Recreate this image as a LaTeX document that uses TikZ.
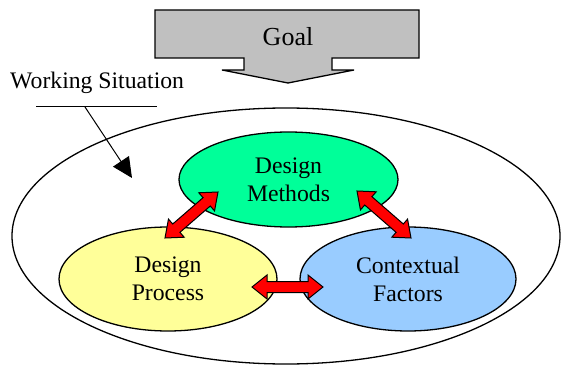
\documentclass[tikz,border=0pt]{standalone}
\usepackage{fontspec}
\setmainfont{Liberation Serif}
\usetikzlibrary{shapes.geometric,calc,arrows.meta}
\definecolor{dmgreen}{HTML}{00FF99}
\definecolor{dpyellow}{HTML}{FFFF99}
\definecolor{cfblue}{HTML}{99CCFF}
\definecolor{goalgray}{HTML}{C0C0C0}
\tikzset{
  lbl/.style={font=\fontsize{23.7}{28}\selectfont, align=center},
  blob/.style={ellipse, draw=black, line width=1.3pt, inner sep=0pt, lbl},
  redarrow/.style={draw=black, fill=red, line width=1pt, line join=miter},
  pointer/.style={draw=black, line width=1pt, -{Triangle[length=20pt,width=19pt]}},
}
\newcommand\blockarrow[2]{%
  \path (#1) coordinate (ba-s) (#2) coordinate (ba-t);
  \path ($(ba-s)!15pt!(ba-t)$) coordinate (ba-h1)
        ($(ba-t)!15pt!(ba-s)$) coordinate (ba-h2);
  \draw[redarrow] (ba-s)
    -- ($(ba-h1)!12pt!-90:(ba-t)$) -- ($(ba-h1)!5.5pt!-90:(ba-t)$)
    -- ($(ba-h2)!5.5pt!90:(ba-s)$) -- ($(ba-h2)!12pt!90:(ba-s)$)
    -- (ba-t)
    -- ($(ba-h2)!12pt!-90:(ba-s)$) -- ($(ba-h2)!5.5pt!-90:(ba-s)$)
    -- ($(ba-h1)!5.5pt!90:(ba-t)$) -- ($(ba-h1)!12pt!90:(ba-t)$)
    -- cycle;}
\begin{document}
\begin{tikzpicture}[x=1pt,y=-1pt]
\useasboundingbox (0,0) rectangle (561,371);
% Goal arrow
\draw[fill=goalgray, line width=1.3pt, line join=miter]
  (155,10) -- (419,10) -- (419,58) -- (332,58) -- (332,70) -- (354,70)
  -- (288,83) -- (222,70) -- (244,70) -- (244,58) -- (155,58) -- cycle;
\node[font=\fontsize{26}{30}\selectfont, anchor=base] (goal) at (288,46) {Goal};
% Working situation
\node[lbl, anchor=base west, inner sep=0pt] (ws) at (10,89) {Working Situation};
\coordinate (ul1) at (36,107);
\coordinate (ul2) at (157,107);
\coordinate (wsfrom) at (85,107);
\coordinate (wsto) at (132,178);
\draw[line width=1pt] (ul1) -- (ul2);
\draw[pointer] (wsfrom) -- (wsto);
% outer ellipse
\node[ellipse, draw=black, line width=1.3pt, minimum width=548pt, minimum height=256pt, inner sep=0pt] (outer) at (286,236) {};
% inner ellipses
\node[blob, fill=dmgreen, minimum width=219pt, minimum height=95pt] (dm) at (288.5,179.5) {Design\\Methods};
\node[blob, fill=dpyellow, minimum width=218pt, minimum height=104pt] (dp) at (168,279) {Design\\Process};
\node[blob, fill=cfblue, minimum width=216pt, minimum height=104pt] (cf) at (408,279) {Contextual\\Factors};
% red double arrows
\coordinate (l1) at ($(dp.center)+(-3,-41)$);
\coordinate (l2) at ($(dm.center)+(-70.5,12.5)$);
\coordinate (r1) at ($(dm.center)+(68.5,11.5)$);
\coordinate (r2) at ($(cf.center)+(3,-41)$);
\coordinate (b1) at ($(dp.center)+(84,8)$);
\coordinate (b2) at ($(cf.center)+(-85,8)$);
\blockarrow{l1}{l2}
\blockarrow{r1}{r2}
\blockarrow{b1}{b2}
\end{tikzpicture}
\end{document}
